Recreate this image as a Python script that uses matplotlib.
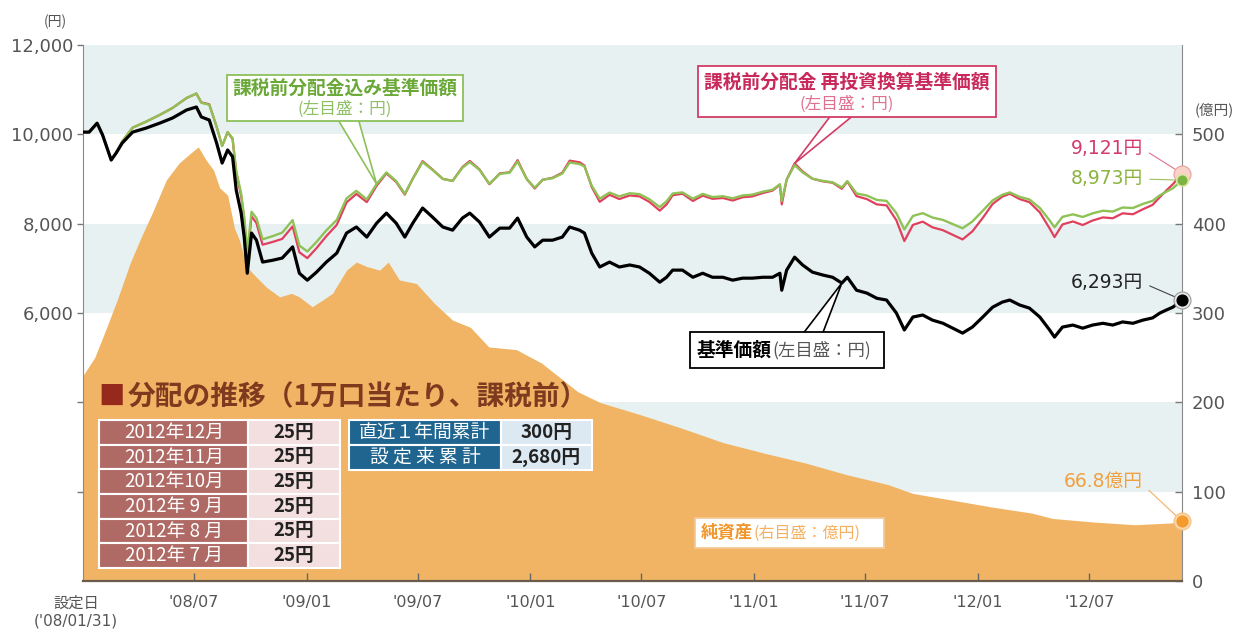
import matplotlib
matplotlib.use("Agg")
import matplotlib.pyplot as plt
import matplotlib.dates as mdates
from matplotlib.patches import Rectangle, Polygon
from matplotlib.transforms import IdentityTransform
import pandas as pd

plt.rcParams['font.family'] = ['Noto Sans CJK JP', 'DejaVu Sans']
NUM_FONT = ['DejaVu Sans', 'Noto Sans CJK JP']

# 基準価額・分配金込み・再投資換算 (左目盛：円)
dates = [
    '2008-01-02', '2008-01-12', '2008-01-25', '2008-02-03', '2008-02-17', '2008-02-25', '2008-03-06', '2008-03-23',
    '2008-04-14', '2008-05-06', '2008-05-27', '2008-06-19', '2008-07-05', '2008-07-13', '2008-07-26', '2008-08-07',
    '2008-08-16', '2008-08-25', '2008-09-02', '2008-09-08', '2008-09-16', '2008-09-21', '2008-09-26', '2008-10-03',
    '2008-10-11', '2008-10-21', '2008-11-06', '2008-11-22', '2008-12-09', '2008-12-20', '2009-01-02', '2009-01-17',
    '2009-02-02', '2009-02-19', '2009-03-07', '2009-03-23', '2009-04-09', '2009-04-25', '2009-05-11', '2009-05-27',
    '2009-06-10', '2009-06-23', '2009-07-09', '2009-07-25', '2009-08-11', '2009-08-27', '2009-09-12', '2009-09-24',
    '2009-10-10', '2009-10-26', '2009-11-12', '2009-11-28', '2009-12-11', '2009-12-26', '2010-01-08', '2010-01-21',
    '2010-02-06', '2010-02-22', '2010-03-06', '2010-03-22', '2010-03-30', '2010-04-11', '2010-04-24', '2010-05-10',
    '2010-05-26', '2010-06-12', '2010-06-28', '2010-07-14', '2010-07-31', '2010-08-11', '2010-08-21', '2010-09-06',
    '2010-09-23', '2010-10-09', '2010-10-25', '2010-11-11', '2010-11-27', '2010-12-13', '2010-12-29', '2011-01-15',
    '2011-01-31', '2011-02-12', '2011-02-15', '2011-02-23', '2011-03-08', '2011-03-21', '2011-04-06', '2011-04-23',
    '2011-05-09', '2011-05-24', '2011-06-02', '2011-06-17', '2011-07-04', '2011-07-20', '2011-08-05', '2011-08-21',
    '2011-09-03', '2011-09-17', '2011-10-03', '2011-10-19', '2011-11-05', '2011-11-21', '2011-12-07', '2011-12-23',
    '2012-01-09', '2012-01-25', '2012-02-10', '2012-02-22', '2012-03-09', '2012-03-25', '2012-04-11', '2012-04-27',
    '2012-05-05', '2012-05-18', '2012-06-04', '2012-06-20', '2012-07-06', '2012-07-23', '2012-08-08', '2012-08-24',
    '2012-09-10', '2012-09-26', '2012-10-12', '2012-10-24', '2012-11-04', '2012-11-14', '2012-11-29',
]

nav = [
    10050, 10050, 10250, 9984, 9424, 9580, 9805, 10050,
    10140, 10250, 10365, 10545, 10612, 10390, 10320, 9805,
    9357, 9650, 9500, 8750, 8236, 7700, 6890, 7790,
    7630, 7140, 7180, 7230, 7480, 6890, 6735, 6915,
    7140, 7340, 7790, 7925, 7700, 8010, 8236, 8010,
    7700, 8010, 8350, 8150, 7925, 7855, 8125, 8236,
    8035, 7700, 7900, 7900, 8125, 7700, 7480, 7630,
    7630, 7700, 7925, 7855, 7790, 7340, 7030, 7140,
    7030, 7075, 7030, 6890, 6690, 6800, 6960, 6960,
    6800, 6890, 6800, 6800, 6735, 6780, 6780, 6800,
    6800, 6890, 6510, 6960, 7250, 7075, 6915, 6850,
    6800, 6670, 6800, 6510, 6445, 6330, 6290, 6000,
    5620, 5910, 5955, 5840, 5770, 5660, 5550, 5685,
    5910, 6130, 6245, 6290, 6180, 6110, 5910, 5620,
    5460, 5685, 5730, 5660, 5730, 5770, 5730, 5800,
    5770, 5840, 5890, 6000, 6070, 6130, 6293,
]

nav_with_dist = [
    10050, 10050, 10250, 9984, 9424, 9580, 9843, 10150,
    10284, 10434, 10590, 10814, 10912, 10706, 10662, 10169,
    9740, 10049, 9915, 9178, 8680, 8154, 7354, 8266,
    8121, 7649, 7719, 7799, 8079, 7510, 7378, 7592,
    7850, 8083, 8567, 8735, 8543, 8887, 9146, 8953,
    8670, 9007, 9380, 9204, 9003, 8957, 9252, 9379,
    9203, 8892, 9116, 9140, 9392, 8998, 8806, 8983,
    9017, 9122, 9371, 9335, 9283, 8850, 8560, 8696,
    8611, 8681, 8661, 8547, 8372, 8500, 8675, 8700,
    8559, 8667, 8596, 8614, 8568, 8631, 8650, 8715,
    8760, 8882, 8511, 8984, 9310, 9149, 9006, 8958,
    8926, 8811, 8952, 8677, 8629, 8532, 8509, 8236,
    7870, 8173, 8235, 8137, 8083, 7990, 7897, 8048,
    8290, 8521, 8647, 8700, 8601, 8542, 8353, 8074,
    7919, 8153, 8209, 8150, 8230, 8290, 8271, 8361,
    8351, 8441, 8511, 8636, 8720, 8792, 8973,
]

nav_reinvest = [
    10050, 10050, 10250, 9984, 9424, 9580, 9843, 10150,
    10284, 10434, 10590, 10814, 10912, 10716, 10672, 10169,
    9740, 10049, 9895, 9138, 8620, 8074, 7254, 8166,
    8011, 7529, 7589, 7659, 7939, 7360, 7228, 7452,
    7720, 7973, 8477, 8665, 8483, 8847, 9126, 8933,
    8650, 9007, 9400, 9214, 9003, 8957, 9267, 9404,
    9213, 8882, 9126, 9150, 9422, 8998, 8786, 8983,
    9027, 9142, 9411, 9375, 9303, 8820, 8490, 8646,
    8551, 8631, 8611, 8487, 8292, 8430, 8635, 8670,
    8509, 8627, 8556, 8574, 8518, 8591, 8610, 8685,
    8740, 8872, 8431, 8984, 9350, 9169, 9006, 8948,
    8916, 8781, 8942, 8617, 8549, 8432, 8409, 8076,
    7610, 7973, 8045, 7917, 7853, 7750, 7647, 7828,
    8130, 8441, 8607, 8670, 8551, 8482, 8253, 7894,
    7699, 7983, 8049, 7970, 8070, 8140, 8121, 8231,
    8211, 8321, 8421, 8596, 8750, 8882, 9121,
]

# 純資産 (右目盛：億円)
asset_dates = [
    '2008-01-02', '2008-01-21', '2008-02-08', '2008-02-27', '2008-03-19', '2008-04-06', '2008-04-24', '2008-05-17',
    '2008-06-07', '2008-06-24', '2008-07-08', '2008-07-21', '2008-08-02', '2008-08-12', '2008-08-25', '2008-09-05',
    '2008-09-13', '2008-09-25', '2008-10-04', '2008-10-27', '2008-11-18', '2008-12-07', '2008-12-20', '2009-01-10',
    '2009-01-28', '2009-02-12', '2009-03-07', '2009-03-23', '2009-04-09', '2009-04-30', '2009-05-14', '2009-06-01',
    '2009-06-29', '2009-07-28', '2009-08-27', '2009-09-25', '2009-10-25', '2009-12-09', '2010-01-19', '2010-03-19',
    '2010-04-24', '2010-05-13', '2010-06-30', '2010-09-05', '2010-11-11', '2011-01-18', '2011-03-26', '2011-06-01',
    '2011-08-07', '2011-09-17', '2011-11-16', '2012-01-22', '2012-03-29', '2012-05-02', '2012-07-08', '2012-09-13',
    '2012-11-12', '2012-11-29',
]
net_assets = [
    230, 250, 281, 315, 356, 385, 412, 449,
    468, 478, 486, 471, 460, 440, 432, 395,
    382, 352, 345, 329, 318, 322, 318, 307,
    315, 322, 348, 357, 352, 348, 357, 337,
    333, 311, 292, 284, 262, 259, 244, 212,
    200, 196, 186, 171, 155, 143, 132, 119,
    108, 98, 91, 83, 76, 70, 66, 63,
    65, 66.8,
]

# 分配の推移
dist_months = ['2012年12月', '2012年11月', '2012年10月', '2012年 9 月', '2012年 8 月', '2012年 7 月']
dist_amounts = ['25円', '25円', '25円', '25円', '25円', '25円']
cum_labels = ['直近１年間累計', '設 定 来 累 計']
cum_amounts = ['300円', '2,680円']

x_ticks = ['2008-07-01', '2009-01-01', '2009-07-01', '2010-01-01', '2010-07-01',
           '2011-01-01', '2011-07-01', '2012-01-01', '2012-07-01']

d = pd.to_datetime(dates)
ad = pd.to_datetime(asset_dates)
W, H = 1246, 639

fig = plt.figure(figsize=(W / 100, H / 100), dpi=100)
ax = fig.add_axes([83 / W, 1 - 581 / H, 1099 / W, 536 / H])
ax2 = ax.twinx()
ax.set_zorder(3)
ax2.set_zorder(1)
ax.patch.set_visible(False)

# 背景の帯と純資産
for lo, hi in [(500, 600), (300, 400), (100, 200)]:
    ax2.axhspan(lo, hi, color='#e7f1f1', lw=0, zorder=0)
ax2.fill_between(ad, net_assets, 0, color='#f0b464', lw=0, zorder=1)
ax2.set_ylim(0, 600)

ax.plot(d, nav_reinvest, color='#e0405e', lw=1.6, zorder=3)
ax.plot(d, nav_with_dist, color='#8fc255', lw=1.7, zorder=4)
ax.plot(d, nav, color='black', lw=2.3, zorder=5)

ax.set_xlim(d[0], d[-1])
ax.set_ylim(0, 12000)

# 軸まわり
for s in ['top', 'right']:
    ax.spines[s].set_visible(False)
for s in ['top', 'left', 'bottom']:
    ax2.spines[s].set_visible(False)
ax.spines['left'].set_color('#8a8a8a')
ax2.spines['right'].set_color('#8a8a8a')
ax.spines['bottom'].set_color('#6b5b4b')
ax.spines['bottom'].set_linewidth(1.6)

ax.set_yticks(range(2000, 12001, 2000))
ax.set_yticklabels(['', '', '6,000', '8,000', '10,000', '12,000'], fontfamily=NUM_FONT)
ax.tick_params(axis='y', direction='out', length=4, width=1, colors='#777', labelcolor='#555',
               labelsize=13, pad=3)
ax2.set_yticks(range(0, 501, 100))
ax2.set_yticklabels([str(v) for v in range(0, 501, 100)], fontfamily=NUM_FONT)
ax2.tick_params(axis='y', direction='in', length=5, width=1, colors='#777', labelcolor='#555',
                labelsize=13, pad=7)

tick_d = pd.to_datetime(x_ticks)
ax.set_xticks(tick_d)
ax.set_xticklabels([t.strftime("'%y/%m") for t in tick_d], fontfamily=NUM_FONT)
ax.tick_params(axis='x', direction='in', length=6, width=1, colors='#666', labelcolor='#555',
               labelsize=11.5, pad=10)

fig.text(76 / W, 1 - 603 / H, '設定日', ha='center', va='center', fontsize=11, color='#555')
fig.text(76 / W, 1 - 621 / H, "('08/01/31)", ha='center', va='center', fontsize=11, color='#555',
         fontfamily=NUM_FONT)
fig.text(55 / W, 1 - 22 / H, '(円)', ha='center', va='center', fontsize=10, color='#555')
fig.text(1214 / W, 1 - 110 / H, '(億円)', ha='center', va='center', fontsize=10.5, color='#555')

PIX = IdentityTransform()


def fig_px(x, y, s, **kw):
    # 画像の左上基準ピクセル位置に文字を置く
    return ax.annotate(s, xy=(x, H - y), xycoords='figure pixels', zorder=8, **kw)


def callout_box(x0, y0, x1, y1, edge, tip=None, base=None):
    # 吹き出し枠：三角形の先端はデータ点、根元は枠の辺
    if tip is not None:
        tx, ty = ax.transData.transform((mdates.date2num(tip[0]), tip[1]))
        by = base[2]
        inner = by + 3 if by < (y0 + y1) / 2 else by - 3
        ax.add_patch(Polygon([(base[0], H - inner), (tx, ty), (base[1], H - inner)], closed=True,
                             fc='white', ec=edge, lw=1.2, transform=PIX, clip_on=False, zorder=6))
    ax.add_patch(Rectangle((x0, H - y1), x1 - x0, y1 - y0, fc='white', ec=edge, lw=1.3,
                           transform=PIX, clip_on=False, zorder=7))


i_g = dates.index('2009-04-25')
i_r = dates.index('2011-03-08')
i_b = dates.index('2011-05-24')

callout_box(227, 75, 463, 121, '#8dc05a', tip=(d[i_g], nav_with_dist[i_g]), base=(337, 358, 121))
fig_px(345, 88, '課税前分配金込み基準価額', ha='center', va='center', fontsize=13.5,
       fontweight='bold', color='#6aa838')
fig_px(345, 109, '(左目盛：円)', ha='center', va='center', fontsize=12, color='#8fc068')

callout_box(698, 66, 996, 117, '#d23c64', tip=(d[i_r], nav_reinvest[i_r]), base=(832, 855, 117))
fig_px(847, 82, '課税前分配金 再投資換算基準価額', ha='center', va='center', fontsize=13.5,
       fontweight='bold', color='#c8285a')
fig_px(847, 104, '(左目盛：円)', ha='center', va='center', fontsize=12, color='#e07090')

callout_box(690, 332, 884, 368, 'black', tip=(d[i_b], nav[i_b]), base=(802, 822, 332))
b1 = fig_px(697, 350, '基準価額', ha='left', va='center', fontsize=13.5, fontweight='bold', color='black')
ax.annotate('(左目盛：円)', xy=(1, 0.5), xycoords=b1, ha='left', va='center', fontsize=12.5,
            color='#555', zorder=8)

callout_box(695, 518, 884, 548, '#f7c894')
o1 = fig_px(701, 533, '純資産', ha='left', va='center', fontsize=12.5, fontweight='bold', color='#f0962a')
ax.annotate('(右目盛：億円)', xy=(1, 0.5), xycoords=o1, ha='left', va='center', fontsize=11.5,
            color='#f5b060', zorder=8)

# 最新値
end = d[-1]
ax.annotate(f'{nav_reinvest[-1]:,}円', xy=(end, nav_reinvest[-1]), xytext=(1143, H - 149),
            textcoords='figure pixels', ha='right', va='center', fontsize=13.5, color='#d23a70',
            fontfamily=NUM_FONT, zorder=9,
            arrowprops=dict(arrowstyle='-', color='#e07090', lw=0.8, relpos=(1, 0.5), shrinkA=3, shrinkB=5))
ax.annotate(f'{nav_with_dist[-1]:,}円', xy=(end, nav_with_dist[-1]), xytext=(1143, H - 179),
            textcoords='figure pixels', ha='right', va='center', fontsize=13.5, color='#8ab43e',
            fontfamily=NUM_FONT, zorder=9,
            arrowprops=dict(arrowstyle='-', color='#9cc060', lw=0.8, relpos=(1, 0.5), shrinkA=3, shrinkB=5))
ax.annotate(f'{nav[-1]:,}円', xy=(end, nav[-1]), xytext=(1143, H - 283),
            textcoords='figure pixels', ha='right', va='center', fontsize=13.5, color='#222',
            fontfamily=NUM_FONT, zorder=9,
            arrowprops=dict(arrowstyle='-', color='#444', lw=0.8, relpos=(1, 0.5), shrinkA=3, shrinkB=5))
ax2.annotate(f'{net_assets[-1]}億円', xy=(ad[-1], net_assets[-1]), xytext=(1143, H - 481),
             textcoords='figure pixels', ha='right', va='center', fontsize=13.5, color='#f0a040',
             fontfamily=NUM_FONT, zorder=9,
             arrowprops=dict(arrowstyle='-', color='#f5b060', lw=0.8, relpos=(1, 0.3), shrinkA=3, shrinkB=5))

ax.scatter([end], [nav_reinvest[-1]], s=150, color='#f9d2c8', edgecolor='#e8a0a0', lw=0.8, zorder=9, clip_on=False)
ax.scatter([end], [nav_with_dist[-1]], s=70, color='#7cb342', edgecolor='#d8e6a0', lw=1.2, zorder=10, clip_on=False)
ax.scatter([end], [nav[-1]], s=150, color='#e8e8e8', edgecolor='#999', lw=0.8, zorder=9, clip_on=False)
ax.scatter([end], [nav[-1]], s=60, color='black', zorder=10, clip_on=False)
ax2.scatter([ad[-1]], [net_assets[-1]], s=150, color='#fbd6a8', edgecolor='#f5c080', lw=0.8, zorder=9, clip_on=False)
ax2.scatter([ad[-1]], [net_assets[-1]], s=60, color='#f59a2c', zorder=10, clip_on=False)

# 分配の推移の表
ax.text((112 - 83) / 1099, (581 - 397) / 536, '■', transform=ax.transAxes, ha='center', va='center',
        fontsize=19, color='#952a1c', zorder=8)
ax.text((128 - 83) / 1099, (581 - 397) / 536, '分配の推移（1万口当たり、課税前）', transform=ax.transAxes,
        ha='left', va='center', fontsize=20, fontweight='bold', color='#7e3a1e', zorder=8)

t1 = ax.table(cellText=[[m, a] for m, a in zip(dist_months, dist_amounts)], colWidths=[0.62, 0.38],
              cellLoc='center', bbox=[(99 - 83) / 1099, (581 - 568) / 536, 241 / 1099, 148 / 536], zorder=8)
t2 = ax.table(cellText=[[m, a] for m, a in zip(cum_labels, cum_amounts)], colWidths=[0.625, 0.375],
              cellLoc='center', bbox=[(349 - 83) / 1099, (581 - 470) / 536, 243 / 1099, 50 / 536], zorder=8)
for tbl, c_lab, c_val in [(t1, '#b06a66', '#f3dfdf'), (t2, '#1f6590', '#dce9f3')]:
    tbl.auto_set_font_size(False)
    for (r, c), cell in tbl.get_celld().items():
        cell.set_edgecolor('white')
        cell.set_linewidth(1.5)
        txt = cell.get_text()
        if c == 0:
            cell.set_facecolor(c_lab)
            txt.set_color('white')
            txt.set_fontsize(13.5)
        else:
            cell.set_facecolor(c_val)
            txt.set_color('#222')
            txt.set_fontsize(13.5)
            txt.set_fontweight('bold')

fig.savefig('out.png', dpi=100)
